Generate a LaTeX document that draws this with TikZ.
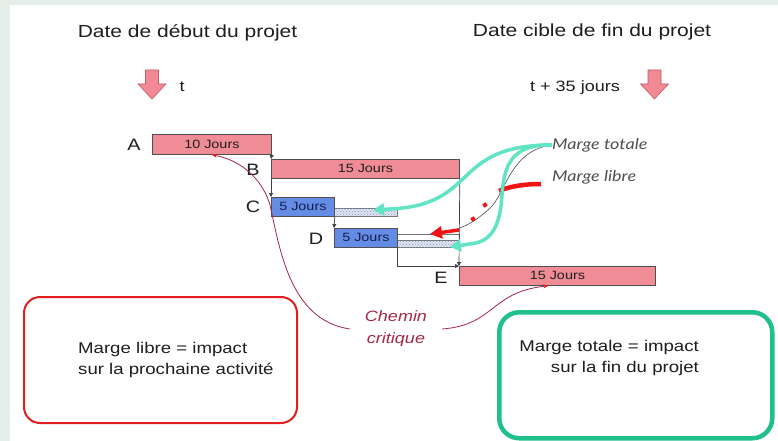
\documentclass[tikz,border=0pt]{standalone}
\usepackage{fontspec}
\setmainfont{Liberation Sans}[FakeStretch=1.2]
\newfontfamily\humfont{Lato}[FakeStretch=1.2]
\usetikzlibrary{arrows.meta,patterns}
\definecolor{bgframe}{RGB}{230,238,233}
\definecolor{barpink}{RGB}{240,140,150}
\definecolor{barblue}{RGB}{100,140,228}
\definecolor{barline}{RGB}{80,80,80}
\definecolor{aquaarrow}{RGB}{96,228,196}
\definecolor{critred}{RGB}{165,40,70}
\definecolor{boxred}{RGB}{226,30,30}
\definecolor{boxgreen}{RGB}{32,192,140}
\definecolor{arrowpink}{RGB}{242,138,150}
\definecolor{arrowedge}{RGB}{190,90,100}
\definecolor{slackfill}{RGB}{222,228,240}
\definecolor{slackdot}{RGB}{140,155,195}
\definecolor{freered}{RGB}{240,20,20}
\definecolor{margegray}{RGB}{80,80,80}
\definecolor{textdark}{RGB}{30,30,30}
\begin{document}
\begin{tikzpicture}[x=1pt,y=-1pt,
  bar/.style={draw=barline, line width=0.8pt, inner sep=0pt, anchor=north west,
    font=\fontsize{12}{12}\selectfont, text=textdark},
  pinkbar/.style={bar, fill=barpink},
  bluebar/.style={bar, fill=barblue, text={rgb,255:red,20;green,30;blue,80}},
  slackbox/.style={draw=barline!80, line width=0.5pt, fill=slackfill,
    postaction={pattern=crosshatch dots, pattern color=slackdot}, inner sep=0pt, anchor=north west},
  freebox/.style={draw=barline!80, line width=0.5pt, fill=white, inner sep=0pt, anchor=north west},
  letter/.style={font=\fontsize{16.5}{16.5}\selectfont, text=textdark},
  link/.style={draw=black!75, line width=0.7pt, -{Triangle[length=4pt,width=4pt]}},
  title/.style={font=\fontsize{17.5}{21}\selectfont, text=textdark},
  small/.style={font=\fontsize{15}{18}\selectfont, text=textdark},
  downarr/.style={fill=arrowpink, draw=arrowedge, line width=0.6pt},
  crit/.style={font=\itshape\fontsize{15}{22}\selectfont, text=critred, align=center, inner xsep=15pt},
  critline/.style={draw=critred, line width=0.8pt, -{Stealth[length=5pt,width=4pt,color=freered]}},
  margelabel/.style={font=\humfont\itshape\fontsize{15}{18}\selectfont, text=margegray, anchor=west, inner sep=0pt},
  aqua/.style={draw=aquaarrow, line width=3.5pt, -{Triangle[length=11pt,width=12pt]}},
  boxtext/.style={font=\fontsize{15.5}{20.5}\selectfont, text=textdark, inner sep=0pt},
  reddot/.style={fill=freered, minimum size=4pt, inner sep=0pt, rotate=30}
]
\useasboundingbox (0,0) rectangle (778,441);
\fill[bgframe] (0,0) rectangle (778,441);
\fill[white] (10,5) rectangle (778,441);

% titles
\node[title] (start) at (187.5,33) {Date de début du projet};
\node[title] (finish) at (592,32) {Date cible de fin du projet};
\draw[downarr] (145.5,70) -- (158.5,70) -- (158.5,84) -- (166,84) -- (152,99) -- (138,84) -- (145.5,84) -- cycle;
\draw[downarr] (648,70) -- (661,70) -- (661,84) -- (668.5,84) -- (654.5,99) -- (640.5,84) -- (648,84) -- cycle;
\node[small] (t0) at (182,87) {t};
\node[small] (t35) at (575,88) {t + 35 jours};

% bars
\node[pinkbar, minimum width=119pt, minimum height=20pt] (A) at (152,134) {10 Jours};
\node[pinkbar, minimum width=188pt, minimum height=19pt] (B) at (271,159) {15 Jours};
\node[slackbox, minimum width=63pt, minimum height=8pt] (Cs) at (334,208) {};
\node[bluebar, minimum width=63pt, minimum height=19pt] (C) at (271,197) {5 Jours};
\node[freebox, minimum width=62pt, minimum height=6pt] (Df) at (397,234) {};
\node[slackbox, minimum width=62pt, minimum height=7pt] (Dt) at (397,240) {};
\node[bluebar, minimum width=63pt, minimum height=19pt] (D) at (334,228) {5 Jours};
\node[pinkbar, minimum width=196pt, minimum height=19pt] (E) at (459,266) {15 Jours};

\node[letter] (la) at (134,145) {A};
\node[letter] (lb) at (253,170) {B};
\node[letter] (lc) at (253,207) {C};
\node[letter] (ld) at (316,239) {D};
\node[letter] (le) at (441,278) {E};

% dependency links
\draw[link] (A.south east) -- (B.north west);
\draw[link] (B.south west) -- (C.north west);
\draw[link] (C.south east) -- (D.north west);
\draw[link] (D.south east) |- (E.north west);
\draw[link] (B.south east) -- (E.north west);

% critical path
\node[crit] (chemin) at (396,329) {Chemin\\critique};
\draw[critline] (chemin.west) .. controls (290,320) and (280,250) .. (270,205)
  .. controls (262,178) and (240,160) .. (A.south);
\draw[critline] (chemin.east) .. controls (495,325) and (490,292) .. ([xshift=-9pt]E.south);

% margin labels and arrows
\node[margelabel] (mt) at (552,145) {Marge totale};
\node[margelabel] (ml) at (552,177) {Marge libre};
\coordinate (ctip) at (373,210);
\coordinate (dtip) at (450,247);
\coordinate (rtip) at (430,234);
\coordinate (rstart) at (541,184);
\draw[black!70, line width=0.6pt] (mt.west) .. controls (510,150) and (505,195) .. (490,208)
  .. controls (475,222) and (460,232) .. (rtip);
\draw[freered, line width=4.5pt] (rstart) .. controls (522,184) and (508,187) .. (499,191);
\node[reddot] (d1) at (485,205) {};
\node[reddot] (d2) at (473,219) {};
\draw[freered, line width=3.5pt, -{Triangle[length=12pt,width=12pt]}] (459,230) -- (rtip);
\draw[aqua] (mt.west) .. controls (450,145) and (480,205) .. (390,209) -- (ctip);
\draw[aqua] (mt.west) .. controls (495,143) and (505,190) .. (500,212)
  .. controls (496,232) and (488,240) .. (476,243) -- (dtip);

% bottom boxes
\node[draw=boxred, line width=2pt, rounded corners=16pt, anchor=north west,
  minimum width=273pt, minimum height=126pt, inner sep=0pt] (lbox) at (23,296) {};
\node[boxtext, anchor=west, align=left] (ltext) at (78,360) {Marge libre = impact\\sur la prochaine activité};
\node[draw=boxgreen, line width=4.5pt, rounded corners=20pt, anchor=north west,
  minimum width=273pt, minimum height=126pt, inner sep=0pt] (gbox) at (497,310) {};
\node[boxtext, anchor=east, align=right] (gtext) at (699,358) {Marge totale = impact\\sur la fin du projet};
\end{tikzpicture}
\end{document}
